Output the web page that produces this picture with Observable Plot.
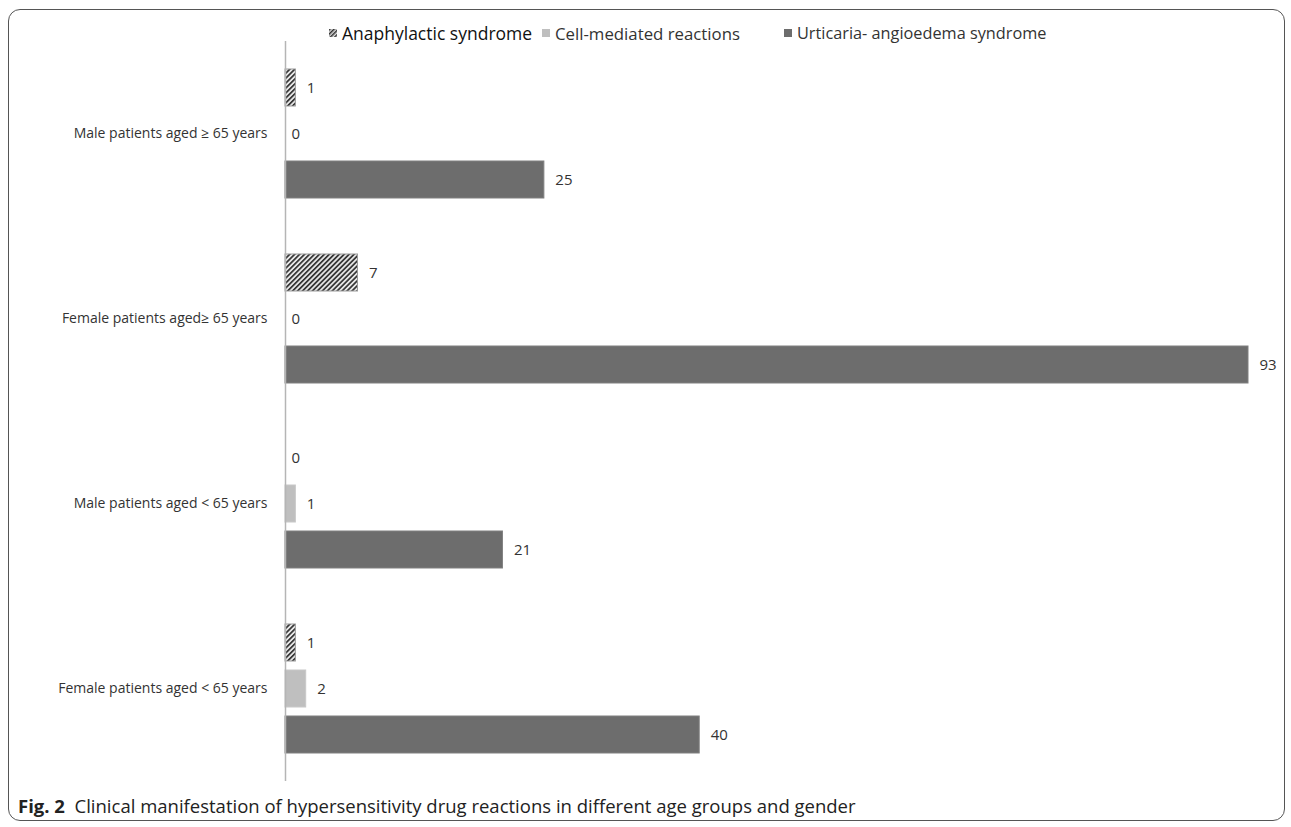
<!DOCTYPE html>
<html><head><meta charset="utf-8">
<script src="https://cdn.jsdelivr.net/npm/d3@7"></script>
<script src="https://cdn.jsdelivr.net/npm/@observablehq/plot@0.6"></script>
<style>
html,body{margin:0;padding:0;background:#fff;}
#wrap{position:relative;width:1291px;height:827px;overflow:hidden;font-family:"Open Sans",sans-serif;}
#frame{position:absolute;left:8px;top:9px;width:1275px;height:810px;border:1.5px solid #555;border-radius:12px;}
#legend{position:absolute;top:20px;left:0;width:1291px;height:26px;color:#333;}
.li{position:absolute;top:0;display:flex;align-items:center;height:26px;white-space:nowrap;}
.sw{width:8px;height:8px;margin-right:5px;}
#chart{position:absolute;left:0;top:40px;}
#caption{position:absolute;left:18px;top:793px;font-family:"Liberation Sans Narrow","Open Sans",sans-serif;font-size:18.5px;color:#222;white-space:nowrap;}
</style></head>
<body><div id="wrap"><div id="frame"></div><div id="legend"></div><div id="chart"></div>
<div id="caption"><b>Fig. 2</b>&nbsp; Clinical manifestation of hypersensitivity drug reactions in different age groups and gender</div></div>
<script>
const groups = ["Male patients aged ≥ 65 years","Female patients aged≥ 65 years","Male patients aged < 65 years","Female patients aged < 65 years"];
const seriesNames = ["Anaphylactic syndrome","Cell-mediated reactions","Urticaria- angioedema syndrome"];
const anaphylactic = [1,7,0,1];
const cellMediated = [0,0,1,2];
const urticaria = [25,93,21,40];

const fills = ["url(#hatch)","#bfbfbf","#6d6d6d"];
const strokes = ["#999","#c8c8c8","#808080"];
const seriesValues = [anaphylactic, cellMediated, urticaria];
const rows = [];
groups.forEach((g,i)=>seriesNames.forEach((s,j)=>rows.push({group:g,series:s,value:seriesValues[j][i]})));

const marks = [];
seriesNames.forEach((s,j)=>{
  marks.push(Plot.barX(rows.filter(r=>r.series===s),{x:"value",y:"series",fy:"group",fill:fills[j],stroke:strokes[j],strokeWidth:1}));
});
marks.push(Plot.text(rows.filter(r=>r.value>0),{x:"value",y:"series",fy:"group",text:d=>String(d.value),textAnchor:"start",dx:11,fontSize:15,fill:"#333"}));
marks.push(Plot.text(rows.filter(r=>r.value===0),{x:"value",y:"series",fy:"group",text:d=>String(d.value),textAnchor:"start",dx:6,fontSize:15,fill:"#333"}));
marks.push(Plot.ruleX([0],{stroke:"#b5b5b5",strokeWidth:1.5}));
marks.push(Plot.axisFy({anchor:"left",tickSize:0,tickPadding:18,fontSize:14,label:null,fill:"#333"}));

const plot = Plot.plot({
  width:1291, height:742,
  marginLeft:285, marginRight:43, marginTop:0, marginBottom:0,
  style:{fontFamily:"'Open Sans',sans-serif",overflow:"visible",background:"transparent"},
  x:{domain:[0,93],axis:null},
  y:{domain:seriesNames,axis:null,paddingInner:0.2,paddingOuter:0.59},
  fy:{domain:groups,padding:0,label:null},
  facet:{label:null},
  marks
});
const svg = d3.select(plot);
const defs = svg.insert("defs",":first-child");
const pat = defs.append("pattern").attr("id","hatch").attr("patternUnits","userSpaceOnUse").attr("width",3.5).attr("height",3.5).attr("patternTransform","rotate(45)");
pat.append("rect").attr("width",3.5).attr("height",3.5).attr("fill","#e6e6e6");
pat.append("rect").attr("width",1.7).attr("height",3.5).attr("fill","#333");
document.getElementById("chart").appendChild(plot);

// legend
const leg = document.getElementById("legend");
const pos = [[329,17.5,"#111"],[542,16.8,"#333"],[784,16.3,"#333"]];
seriesNames.forEach((s,j)=>{
  const d = document.createElement("div"); d.className="li"; d.style.left=pos[j][0]+"px";
  d.style.fontSize=pos[j][1]+"px"; d.style.color=pos[j][2];
  const sw = j===0 ? '<svg class="sw" width="8" height="8"><defs><pattern id="hatchL" patternUnits="userSpaceOnUse" width="3" height="3" patternTransform="rotate(45)"><rect width="3" height="3" fill="#ddd"/><rect width="1.5" height="3" fill="#333"/></pattern></defs><rect width="8" height="8" fill="url(#hatchL)"/></svg>'
    : `<div class="sw" style="background:${fills[j]}"></div>`;
  d.innerHTML = sw + "<span>"+s+"</span>";
  leg.appendChild(d);
});
</script></body></html>
